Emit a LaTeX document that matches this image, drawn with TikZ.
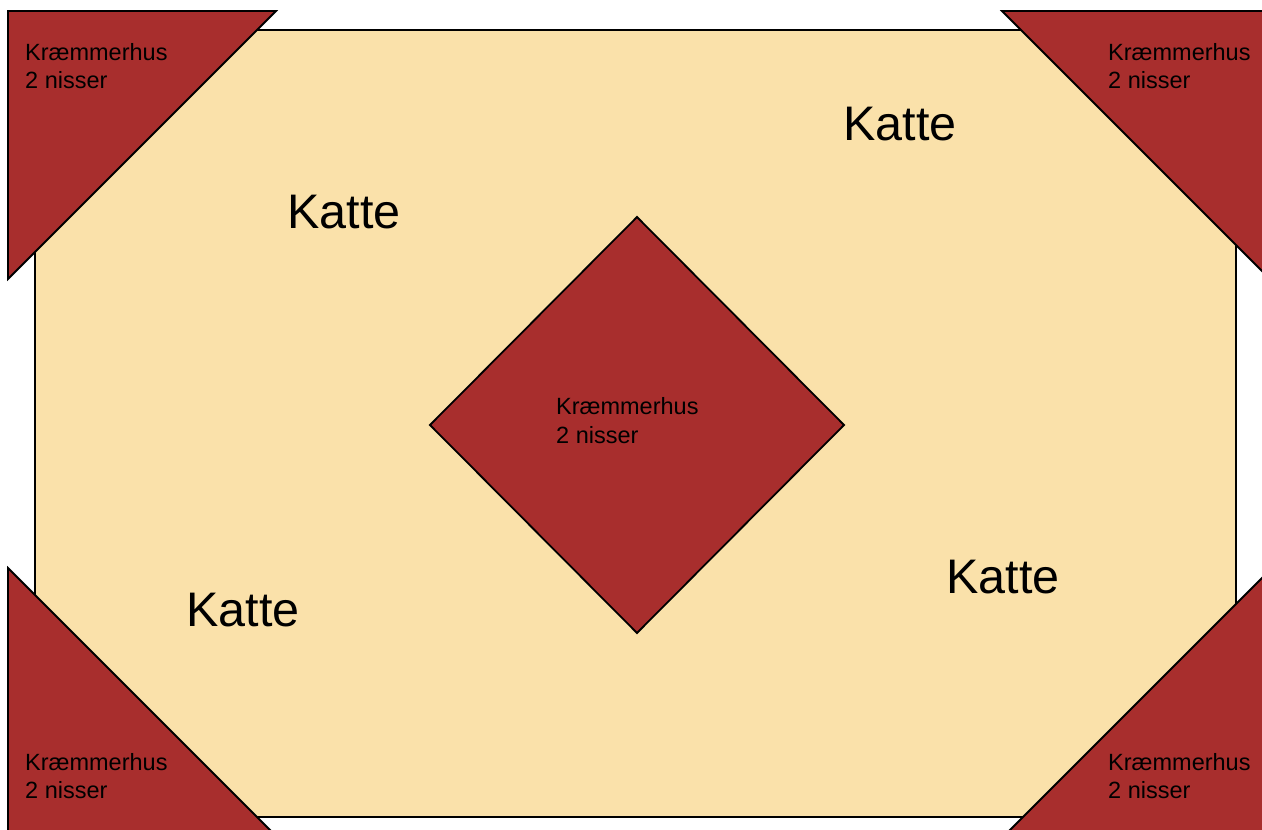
\documentclass[tikz,border=0pt]{standalone}
\usepackage{fontspec}
\setmainfont{Liberation Sans}
\definecolor{cream}{RGB}{250,225,170}
\definecolor{brick}{RGB}{168,46,45}
\tikzset{
  shapeline/.style={draw=black, line width=1.8pt, line join=miter},
  small/.style={anchor=base west, inner sep=0pt, font=\fontsize{23.5}{28}\selectfont},
  big/.style={anchor=base west, inner sep=0pt, font=\fontsize{48.5}{56}\selectfont},
}
\begin{document}
\begin{tikzpicture}[x=1pt,y=-1pt]
\clip (0,0) rectangle (1262,830);
\fill[white] (0,0) rectangle (1262,830);
% background field
\path[shapeline, fill=cream] (35,30) rectangle (1236,817);
% corner triangles
\path[shapeline, fill=brick] (8,11) -- (276,11) -- (8,279) -- cycle;
\path[shapeline, fill=brick] (1002,11) -- (1272,11) -- (1272,281) -- cycle;
\path[shapeline, fill=brick] (8,568) -- (278,838) -- (8,838) -- cycle;
\path[shapeline, fill=brick] (1270,570) -- (1270,838) -- (1002,838) -- cycle;
% center diamond
\path[shapeline, fill=brick] (637,217) -- (844,425) -- (637,633) -- (430,425) -- cycle;
% small labels
\node[small] (tla) at (25,60) {Kræmmerhus};
\node[small] (tlb) at (25,88) {2 nisser};
\node[small] (tra) at (1108,60) {Kræmmerhus};
\node[small] (trb) at (1108,88) {2 nisser};
\node[small] (bla) at (25,770) {Kræmmerhus};
\node[small] (blb) at (25,798) {2 nisser};
\node[small] (bra) at (1108,770) {Kræmmerhus};
\node[small] (brb) at (1108,798) {2 nisser};
\node[small] (ca) at (556,414) {Kræmmerhus};
\node[small] (cb) at (556,443) {2 nisser};
% big labels
\node[big] (k1) at (287,228) {Katte};
\node[big] (k2) at (843,140) {Katte};
\node[big] (k3) at (186,626) {Katte};
\node[big] (k4) at (946,593) {Katte};
\end{tikzpicture}
\end{document}
